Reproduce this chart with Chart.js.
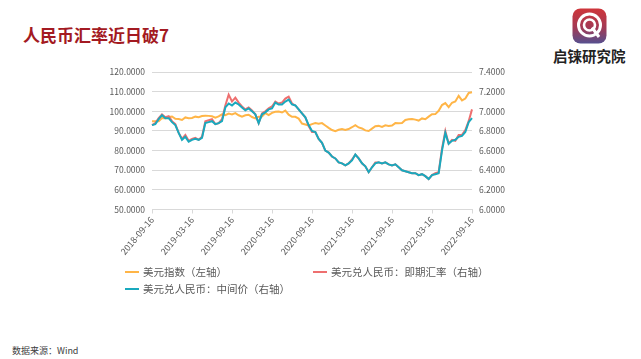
<!DOCTYPE html>
<html>
<head>
<meta charset="utf-8">
<script src="https://cdn.jsdelivr.net/npm/chart.js@4/dist/chart.umd.min.js"></script>
<style>
  html, body { margin: 0; padding: 0; background: #ffffff; }
  body { width: 641px; height: 359px; position: relative; overflow: hidden; font-family: "Noto Sans CJK SC", "Noto Sans", sans-serif; }
  .abs { position: absolute; white-space: nowrap; }
  #title { left: 23px; top: 23px; font-size: 17px; font-weight: bold; color: #A31A22; line-height: 24px; }
  #brand { left: 553px; top: 47px; font-size: 14.5px; font-weight: bold; color: #222; line-height: 18px; letter-spacing: 0px; }
  #source { left: 12px; top: 344px; font-size: 9px; color: #404040; line-height: 14px; }
  #wrap { left: 95px; top: 60px; width: 430px; height: 205px; }
  .lg { position: absolute; font-size: 10.5px; color: #595959; line-height: 14px; }
  .lgline { position: absolute; width: 14px; height: 2px; }
</style>
</head>
<body>
<div id="title" class="abs">人民币汇率近日破7</div>
<svg class="abs" style="left:572px;top:8px" width="35" height="36" viewBox="0 0 35 36">
  <defs>
    <linearGradient id="lgq" x1="0" y1="0" x2="0" y2="1">
      <stop offset="0" stop-color="#CF353A"/>
      <stop offset="0.55" stop-color="#A23A55"/>
      <stop offset="1" stop-color="#56508F"/>
    </linearGradient>
  </defs>
  <rect x="0.5" y="0.5" width="34" height="35" rx="8" ry="8" fill="url(#lgq)"/>
  <circle cx="17.5" cy="17" r="11" fill="none" stroke="#ffffff" stroke-width="3"/>
  <circle cx="17.5" cy="17" r="5.5" fill="none" stroke="#ffffff" stroke-width="2.6"/>
  <line x1="20" y1="19.5" x2="27" y2="29" stroke="#ffffff" stroke-width="3"/>
</svg>
<div id="brand" class="abs">启铼研究院</div>
<div id="wrap" class="abs"><canvas id="c" width="430" height="205"></canvas></div>

<div class="lgline" style="left:125px;top:271px;background:#FFB547"></div>
<div class="lg" style="left:143px;top:265px">美元指数（左轴）</div>
<div class="lgline" style="left:313px;top:271px;background:#EE6F6F"></div>
<div class="lg" style="left:331px;top:265px">美元兑人民币：即期汇率（右轴）</div>
<div class="lgline" style="left:125px;top:288px;background:#19A9BE"></div>
<div class="lg" style="left:143px;top:282px">美元兑人民币：中间价（右轴）</div>

<div id="source" class="abs">数据来源：Wind</div>

<script>
// Semi-monthly observation dates
const dates = [
  '2018-09-16','2018-10-01','2018-10-16','2018-11-01','2018-11-16','2018-12-01','2018-12-16',
  '2019-01-01','2019-01-16','2019-02-01','2019-02-16','2019-03-01','2019-03-16','2019-04-01','2019-04-16',
  '2019-05-01','2019-05-16','2019-06-01','2019-06-16','2019-07-01','2019-07-16','2019-08-01','2019-08-16',
  '2019-09-01','2019-09-16','2019-10-01','2019-10-16','2019-11-01','2019-11-16','2019-12-01','2019-12-16',
  '2020-01-01','2020-01-16','2020-02-01','2020-02-16','2020-03-01','2020-03-16','2020-04-01','2020-04-16',
  '2020-05-01','2020-05-16','2020-06-01','2020-06-16','2020-07-01','2020-07-16','2020-08-01','2020-08-16',
  '2020-09-01','2020-09-16','2020-10-01','2020-10-16','2020-11-01','2020-11-16','2020-12-01','2020-12-16',
  '2021-01-01','2021-01-16','2021-02-01','2021-02-16','2021-03-01','2021-03-16','2021-04-01','2021-04-16',
  '2021-05-01','2021-05-16','2021-06-01','2021-06-16','2021-07-01','2021-07-16','2021-08-01','2021-08-16',
  '2021-09-01','2021-09-16','2021-10-01','2021-10-16','2021-11-01','2021-11-16','2021-12-01','2021-12-16',
  '2022-01-01','2022-01-16','2022-02-01','2022-02-16','2022-03-01','2022-03-16','2022-04-01','2022-04-16',
  '2022-05-01','2022-05-16','2022-06-01','2022-06-16','2022-07-01','2022-07-16','2022-08-01','2022-08-16',
  '2022-09-01','2022-09-16'
];

// Dates shown as x-axis tick labels
const tickDates = ['2018-09-16','2019-03-16','2019-09-16','2020-03-16','2020-09-16','2021-03-16','2021-09-16','2022-03-16','2022-09-16'];

// 美元指数（左轴）
const usdIndex = [
  94.9,95.0,95.0,96.6,96.5,97.2,97.4,
  96.2,96.1,95.6,96.9,96.5,96.6,97.3,97.0,
  97.6,97.8,97.7,97.5,96.8,97.4,98.5,98.1,
  98.9,98.4,99.1,98.0,97.3,98.0,98.3,97.1,
  96.4,97.3,97.4,99.1,98.1,99.2,99.8,99.9,
  99.4,100.4,98.3,97.2,97.2,96.3,93.8,93.3,
  92.8,93.5,94.0,93.7,94.0,92.8,91.6,90.5,
  89.9,90.6,91.0,90.5,91.0,91.9,93.0,91.8,
  91.3,90.3,90.0,91.2,92.4,92.6,92.1,92.9,
  92.6,92.8,94.0,93.9,94.1,95.6,96.0,96.1,
  95.8,95.3,96.4,96.0,97.3,98.5,98.6,100.3,
  103.2,104.2,102.2,104.4,105.0,107.9,105.6,106.5,
  109.4,109.7
];

// 美元兑人民币：即期汇率（右轴）
const spotRate = [
  6.86,6.88,6.93,6.97,6.94,6.95,6.90,
  6.87,6.78,6.72,6.76,6.70,6.72,6.73,6.71,
  6.74,6.90,6.91,6.92,6.87,6.88,6.92,7.06,
  7.17,7.10,7.14,7.09,7.05,7.02,7.04,7.01,
  6.97,6.88,6.98,7.00,7.03,7.05,7.10,7.08,
  7.09,7.13,7.15,7.08,7.06,7.02,6.98,6.94,
  6.85,6.79,6.79,6.72,6.68,6.60,6.58,6.54,
  6.52,6.48,6.47,6.45,6.47,6.51,6.56,6.52,
  6.47,6.44,6.38,6.43,6.48,6.48,6.47,6.48,
  6.46,6.45,6.46,6.43,6.40,6.39,6.38,6.37,
  6.37,6.35,6.36,6.34,6.31,6.35,6.37,6.38,
  6.62,6.80,6.67,6.71,6.70,6.76,6.76,6.81,
  6.90,7.02
];

// 美元兑人民币：中间价（右轴）
const midRate = [
  6.86,6.87,6.92,6.96,6.93,6.93,6.89,
  6.86,6.78,6.71,6.74,6.69,6.71,6.72,6.71,
  6.73,6.88,6.89,6.90,6.87,6.88,6.90,7.04,
  7.08,7.06,7.09,7.07,7.04,7.01,7.03,7.00,
  6.97,6.88,6.97,6.99,7.02,7.03,7.09,7.07,
  7.07,7.10,7.12,7.07,7.06,7.02,6.98,6.94,
  6.86,6.80,6.79,6.72,6.68,6.60,6.58,6.54,
  6.52,6.48,6.47,6.45,6.47,6.50,6.56,6.52,
  6.47,6.44,6.38,6.43,6.47,6.48,6.47,6.48,
  6.46,6.45,6.46,6.43,6.40,6.39,6.38,6.37,
  6.37,6.35,6.36,6.34,6.31,6.35,6.36,6.37,
  6.60,6.78,6.67,6.70,6.71,6.74,6.75,6.79,
  6.89,6.93
];

const leftTicks = { min: 50, max: 120, step: 10 };
const rightTicks = { min: 6.0, max: 7.4, step: 0.2 };

const tickFont = { family: '"Noto Sans CJK SC", "Noto Sans", sans-serif', size: 8.5 };
const gridColor = '#D9D9D9';
const textColor = '#595959';

new Chart(document.getElementById('c'), {
  type: 'line',
  data: {
    labels: dates,
    datasets: [
      { label: '美元指数（左轴）', data: usdIndex, yAxisID: 'y', borderColor: '#FFB547', backgroundColor: '#FFB547', borderWidth: 2, pointRadius: 0, tension: 0, order: 3 },
      { label: '美元兑人民币：即期汇率（右轴）', data: spotRate, yAxisID: 'y1', borderColor: '#EE6F6F', backgroundColor: '#EE6F6F', borderWidth: 2, pointRadius: 0, tension: 0, order: 2 },
      { label: '美元兑人民币：中间价（右轴）', data: midRate, yAxisID: 'y1', borderColor: '#19A9BE', backgroundColor: '#19A9BE', borderWidth: 2, pointRadius: 0, tension: 0, order: 1 }
    ]
  },
  options: {
    responsive: false,
    animation: false,
    layout: { padding: { top: 10.5, left: 0, right: 0, bottom: 0 } },
    plugins: { legend: { display: false }, tooltip: { enabled: false } },
    scales: {
      x: {
        type: 'category',
        offset: false,
        grid: { drawOnChartArea: false, drawTicks: true, tickLength: 4, color: gridColor },
        border: { display: true, color: gridColor },
        ticks: {
          autoSkip: false,
          minRotation: 50,
          maxRotation: 50,
          padding: 1,
          color: textColor,
          font: { family: tickFont.family, size: 9 },
          callback: function(val, idx) {
            const l = this.getLabelForValue(val);
            return tickDates.includes(l) ? l : null;
          }
        },
        afterFit: function(s) { s.height = 55.5; }
      },
      y: {
        position: 'left',
        min: leftTicks.min, max: leftTicks.max,
        grid: { color: gridColor, drawTicks: false },
        border: { display: false },
        ticks: { stepSize: leftTicks.step, padding: 7, color: textColor, font: tickFont, callback: v => Number(v).toFixed(4) },
        afterFit: function(s) { s.width = 57; }
      },
      y1: {
        position: 'right',
        min: rightTicks.min, max: rightTicks.max,
        grid: { drawOnChartArea: false, drawTicks: false },
        border: { display: false },
        ticks: { stepSize: rightTicks.step, padding: 7, color: textColor, font: tickFont, callback: v => Number(v).toFixed(4) },
        afterFit: function(s) { s.width = 53; }
      }
    }
  }
});
</script>
</body>
</html>
